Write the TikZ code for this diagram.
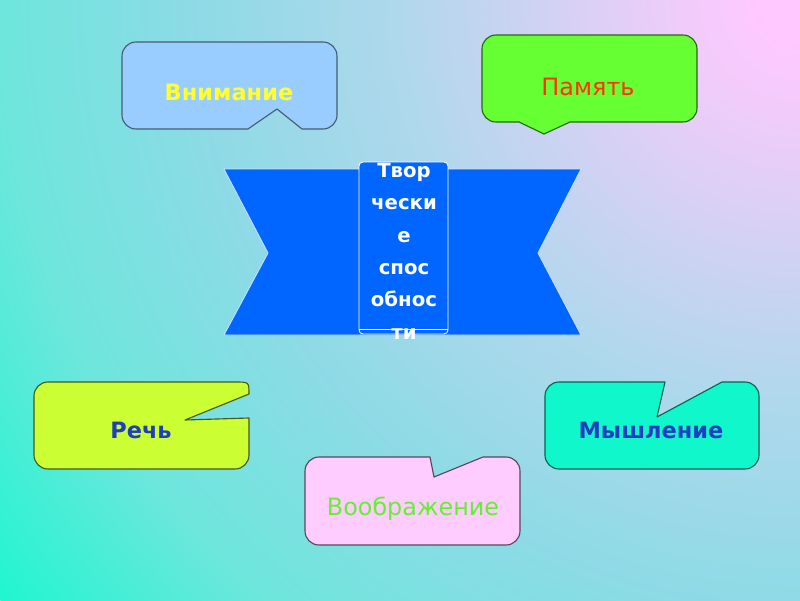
\documentclass[tikz,border=0pt]{standalone}
\usepackage{fontspec}
\setmainfont{DejaVu Sans}
\usepackage{tikz}
\usetikzlibrary{positioning}

\definecolor{bgA}{HTML}{FFC8FF}
\definecolor{bgA2}{HTML}{F0CCFA}
\definecolor{bgB}{HTML}{B0D8EC}
\definecolor{bgC}{HTML}{8EDAE6}
\definecolor{bgD}{HTML}{6EE6DC}
\definecolor{bgE}{HTML}{20F6D0}
\definecolor{ribbon}{HTML}{0066FF}
\definecolor{vnimfill}{HTML}{99CCFF}
\definecolor{pamfill}{HTML}{66FF33}
\definecolor{rechfill}{HTML}{CCFF33}
\definecolor{myshfill}{HTML}{11F7CC}
\definecolor{voobfill}{HTML}{FFCCFF}
\definecolor{darkblue}{HTML}{1F3FBF}
\definecolor{vnimtext}{HTML}{FFFF33}
\definecolor{pamtext}{HTML}{FF3300}
\definecolor{voobtext}{HTML}{66EE33}

% 25bp is the radius of the shaded circle
\pgfdeclareradialshading{bgglow}{\pgfpoint{0bp}{0bp}}{color(0bp)=(bgA); color(1bp)=(bgA); color(3bp)=(bgA2); color(10bp)=(bgB); color(15bp)=(bgC); color(20bp)=(bgD); color(25bp)=(bgE); color(50bp)=(bgE)}

\begin{document}
\begin{tikzpicture}
[x=0.25mm,y=-0.25mm,
 box/.style={line width=0.8pt,line join=round},
 word/.style={anchor=base,font=\bfseries\fontsize{16}{19}\selectfont},
 thinword/.style={anchor=base,font=\fontsize{17}{20}\selectfont}]
\useasboundingbox (0,0) rectangle (800,600);
\begin{scope}
\clip (0,0) rectangle (800,600);
\shade[shading=bgglow] (800,0) circle[radius=1000];
\end{scope}
% ribbon in the middle
\draw[fill=ribbon,draw=white!80!ribbon,line width=0.6pt] (224,169) -- (581,169) -- (538,253) -- (581,335) -- (224,335) -- (268,253) -- cycle;
\draw[fill=ribbon,draw=white,line width=0.6pt,rounded corners=1mm] (359,162) rectangle (448,334);
\draw[white,line width=0.6pt] (359,329) -- (448,329);
\node[text=white,align=center,font=\bfseries\fontsize{14}{23}\selectfont] (tvor) at (404,251) {Твор\\чески\\е\\спос\\обнос\\ти};
% callouts
\draw[box,fill=vnimfill,draw=black!55!vnimfill] (122,86) [rounded corners=3.5mm] -- (122,42) -- (337,42) -- (337,129) [sharp corners] -- (302,129) -- (277,109) -- (248,129) [rounded corners=3.5mm] -- (122,129) -- cycle;
\draw[box,fill=pamfill,draw=black!60!pamfill] (482,78) [rounded corners=3.5mm] -- (482,35) -- (697,35) -- (697,122) [sharp corners] -- (570,122) -- (544,134) -- (519,122) [rounded corners=3.5mm] -- (482,122) -- cycle;
\draw[box,fill=rechfill,draw=black!65!rechfill] (34,425) [rounded corners=3.5mm] -- (34,382) [sharp corners] -- (235,382) .. controls (249,382) .. (249,394) -- (185,420) -- (249,418) [rounded corners=3.5mm] -- (249,469) -- (34,469) -- cycle;
\draw[box,fill=myshfill,draw=black!60!myshfill] (545,425) [rounded corners=3.5mm] -- (545,382) [sharp corners] -- (665,382) -- (657,417) -- (722,382) [rounded corners=3.5mm] -- (759,382) -- (759,469) -- (545,469) -- cycle;
\draw[box,fill=voobfill,draw=black!65!voobfill] (305,500) [rounded corners=3.5mm] -- (305,457) [sharp corners] -- (430,457) -- (434,477) -- (483,457) [rounded corners=3.5mm] -- (520,457) -- (520,545) -- (305,545) -- cycle;
% words
\node[word,text=vnimtext] (vnim) at (229,100) {Внимание};
\node[thinword,text=pamtext] (pam) at (588,95) {Память};
\node[word,text=darkblue] (rech) at (141,438) {Речь};
\node[word,text=darkblue] (mysh) at (651,438) {Мышление};
\node[thinword,text=voobtext] (voob) at (413,515) {Воображение};
\end{tikzpicture}
\end{document}
